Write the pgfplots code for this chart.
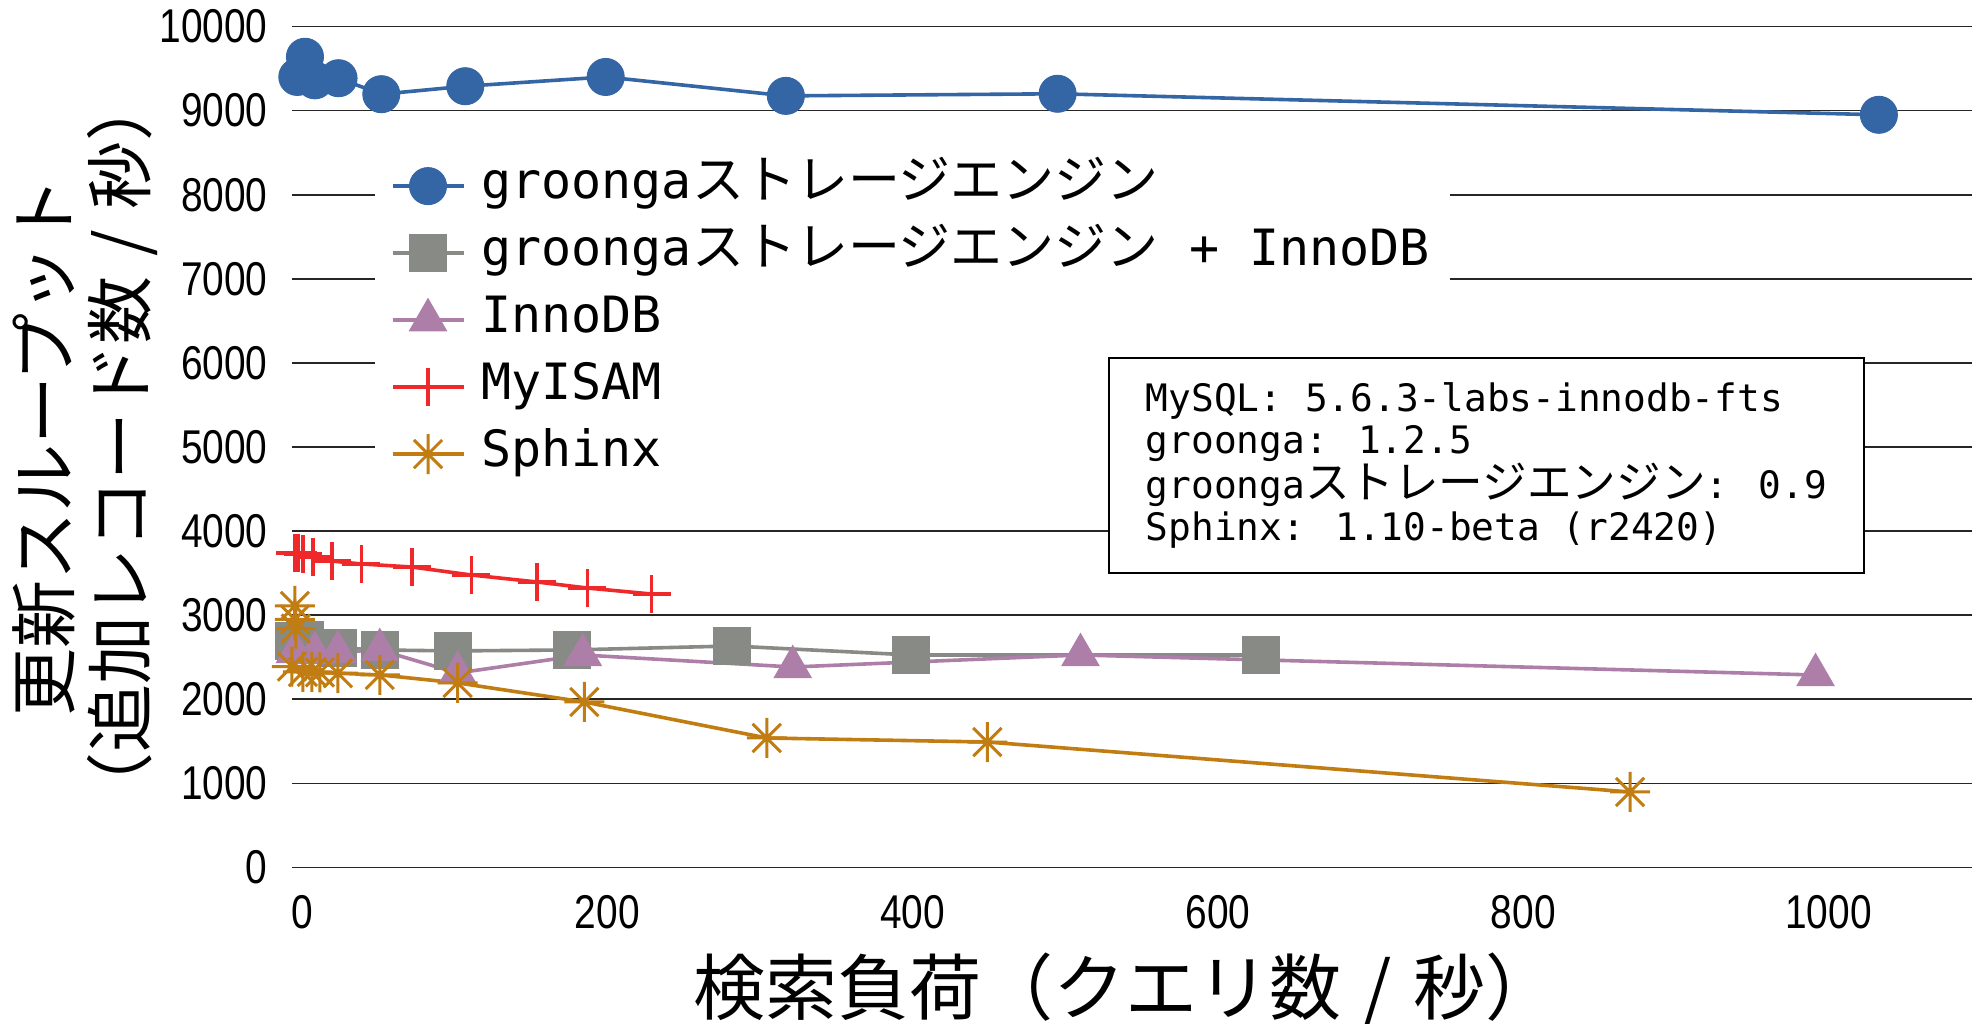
\documentclass[border=0pt]{standalone}
\usepackage{fontspec}
\usepackage{pgfplots}
\pgfplotsset{compat=1.18}
\setmainfont{Noto Sans CJK JP}
\newfontfamily\jp{Noto Sans CJK JP}
\newfontfamily\mono{DejaVu Sans Mono}
\newfontfamily\tickf[FakeStretch=0.82]{Liberation Sans}
\newcommand\JL[1]{{\fontsize{26pt}{26pt}\jp #1}}
\newcommand\JB[1]{{\fontsize{22.3pt}{22.3pt}\jp #1}}
\newcommand\slsh{\hspace{0.3em}/\hspace{0.3em}}

\definecolor{cBlue}{HTML}{3465A4}
\definecolor{cGray}{HTML}{888A85}
\definecolor{cPlum}{HTML}{AD7FA8}
\definecolor{cRed}{HTML}{EF2929}
\definecolor{cChoc}{HTML}{C17D11}

% 8-armed asterisk
\pgfdeclareplotmark{ast8}{%
  \pgfpathmoveto{\pgfqpoint{0pt}{\pgfplotmarksize}}%
  \pgfpathlineto{\pgfqpoint{0pt}{-\pgfplotmarksize}}%
  \pgfpathmoveto{\pgfqpoint{\pgfplotmarksize}{0pt}}%
  \pgfpathlineto{\pgfqpoint{-\pgfplotmarksize}{0pt}}%
  \pgfpathmoveto{\pgfqpoint{0.707\pgfplotmarksize}{0.707\pgfplotmarksize}}%
  \pgfpathlineto{\pgfqpoint{-0.707\pgfplotmarksize}{-0.707\pgfplotmarksize}}%
  \pgfpathmoveto{\pgfqpoint{-0.707\pgfplotmarksize}{0.707\pgfplotmarksize}}%
  \pgfpathlineto{\pgfqpoint{0.707\pgfplotmarksize}{-0.707\pgfplotmarksize}}%
  \pgfusepathqstroke}

\begin{document}
\begin{tikzpicture}
\begin{axis}[
  width=840pt, height=420.5pt, scale only axis,
  xmin=-6.5, xmax=1094, ymin=0, ymax=10000,
  xtick={0,200,...,1000}, ytick={0,1000,...,10000},
  scaled ticks=false,
  ymajorgrids, major grid style={line width=0.85pt, black!85},
  axis line style={draw=none},
  tick style={draw=none},
  clip=false,
  /pgf/number format/assume math mode=true,
  /pgf/number format/1000 sep={},
  ticklabel style={font=\fontsize{23.7pt}{24pt}\tickf, inner sep=0pt},
  yticklabel style={xshift=-12pt},
  xticklabel style={yshift=-13.75pt},
  xlabel={検索負荷（クエリ数\slsh 秒）},
  xlabel style={font=\fontsize{36pt}{40pt}\jp, inner sep=0pt,
    at={(axis description cs:0.496,0)}, anchor=north, yshift=-42.25pt},
  ylabel={更新スループット\\（追加レコード数\slsh 秒）},
  ylabel style={font=\fontsize{34pt}{38pt}\jp, align=center, inner sep=0pt,
    at={(axis description cs:-0.08,0.5)}, anchor=south},
  legend cell align=left,
  legend style={at={(axis description cs:0.049,0.863)}, anchor=north west,
    fill=white, draw=none, inner sep=8pt, row sep=5.5pt, column sep=6pt,
    font=\fontsize{25pt}{25pt}\mono,
    nodes={inner sep=2pt, text height=18pt, text depth=6pt}},
  legend image code/.code={\draw[mark repeat=2,mark phase=2,#1]
    plot coordinates {(0pt,0pt)(17.75pt,0pt)(35.5pt,0pt)};},
]
\addplot[cBlue, line width=1.8pt, mark=*, mark size=9.25pt,
  mark options={draw=cBlue, fill=cBlue, line width=0.5pt}] coordinates {
  (-3,9400) (2,9640) (8.5,9360) (24,9385) (52,9195) (107,9290)
  (199,9400) (317,9175) (495,9200) (1033,8950)};
\addlegendentry{groonga\JL{ストレージエンジン}}

\addplot[cGray, line width=1.8pt, mark=square*, mark size=9.25pt,
  mark options={draw=cGray, fill=cGray, line width=0.5pt}] coordinates {
  (-5,2693) (2,2705) (23.6,2610) (51,2587) (99,2575) (177,2587)
  (282,2634) (399,2527) (628,2527)};
\addlegendentry{groonga\JL{ストレージエンジン} + InnoDB}

\addplot[cPlum, line width=1.8pt, mark=triangle*, mark size=10.7pt,
  mark options={draw=cPlum, fill=cPlum, line width=0.5pt}] coordinates {
  (-4.6,2562) (8.5,2550) (23.6,2562) (51,2586) (102,2313) (184,2527)
  (321.5,2384) (510,2527) (991.5,2289)};
\addlegendentry{InnoDB}

\addplot[cRed, line width=1.8pt, mark=+, mark size=9.5pt] coordinates {
  (-4.6,3740) (-2.6,3740) (0.7,3728) (7.2,3692) (19.6,3644) (39,3609)
  (72,3573) (111,3478) (154,3395) (187,3323) (229,3252)};
\addlegendentry{MyISAM}

\addplot[cChoc, line width=1.8pt, mark=ast8, mark size=10pt,
  mark options={line width=1.5pt}] coordinates {
  (-4.6,3110) (-4.6,2950) (-4,2840) (-6.5,2390) (0.7,2325) (6.5,2325)
  (11.8,2320) (23.6,2310) (51,2290) (102,2195) (185,1968) (304.5,1540)
  (449,1492) (870,898)};
\addlegendentry{Sphinx}

\coordinate (boxpos) at (axis cs:528,6070);
\end{axis}
\node[draw=black, line width=1pt, fill=white, anchor=north west, align=left,
  inner xsep=18.4pt, inner ysep=12.4pt, font=\fontsize{18.9pt}{20.8pt}\mono]
  at (boxpos)
  {MySQL: 5.6.3-labs-innodb-fts\\groonga: 1.2.5\\groonga\JB{ストレージエンジン}: 0.9\\Sphinx: 1.10-beta (r2420)};
\pgfresetboundingbox
\path[use as bounding box] ([shift={(-146pt,-77.75pt)}]current axis.south west)
  rectangle ([shift={(6pt,13.25pt)}]current axis.north east);
\end{tikzpicture}
\end{document}
